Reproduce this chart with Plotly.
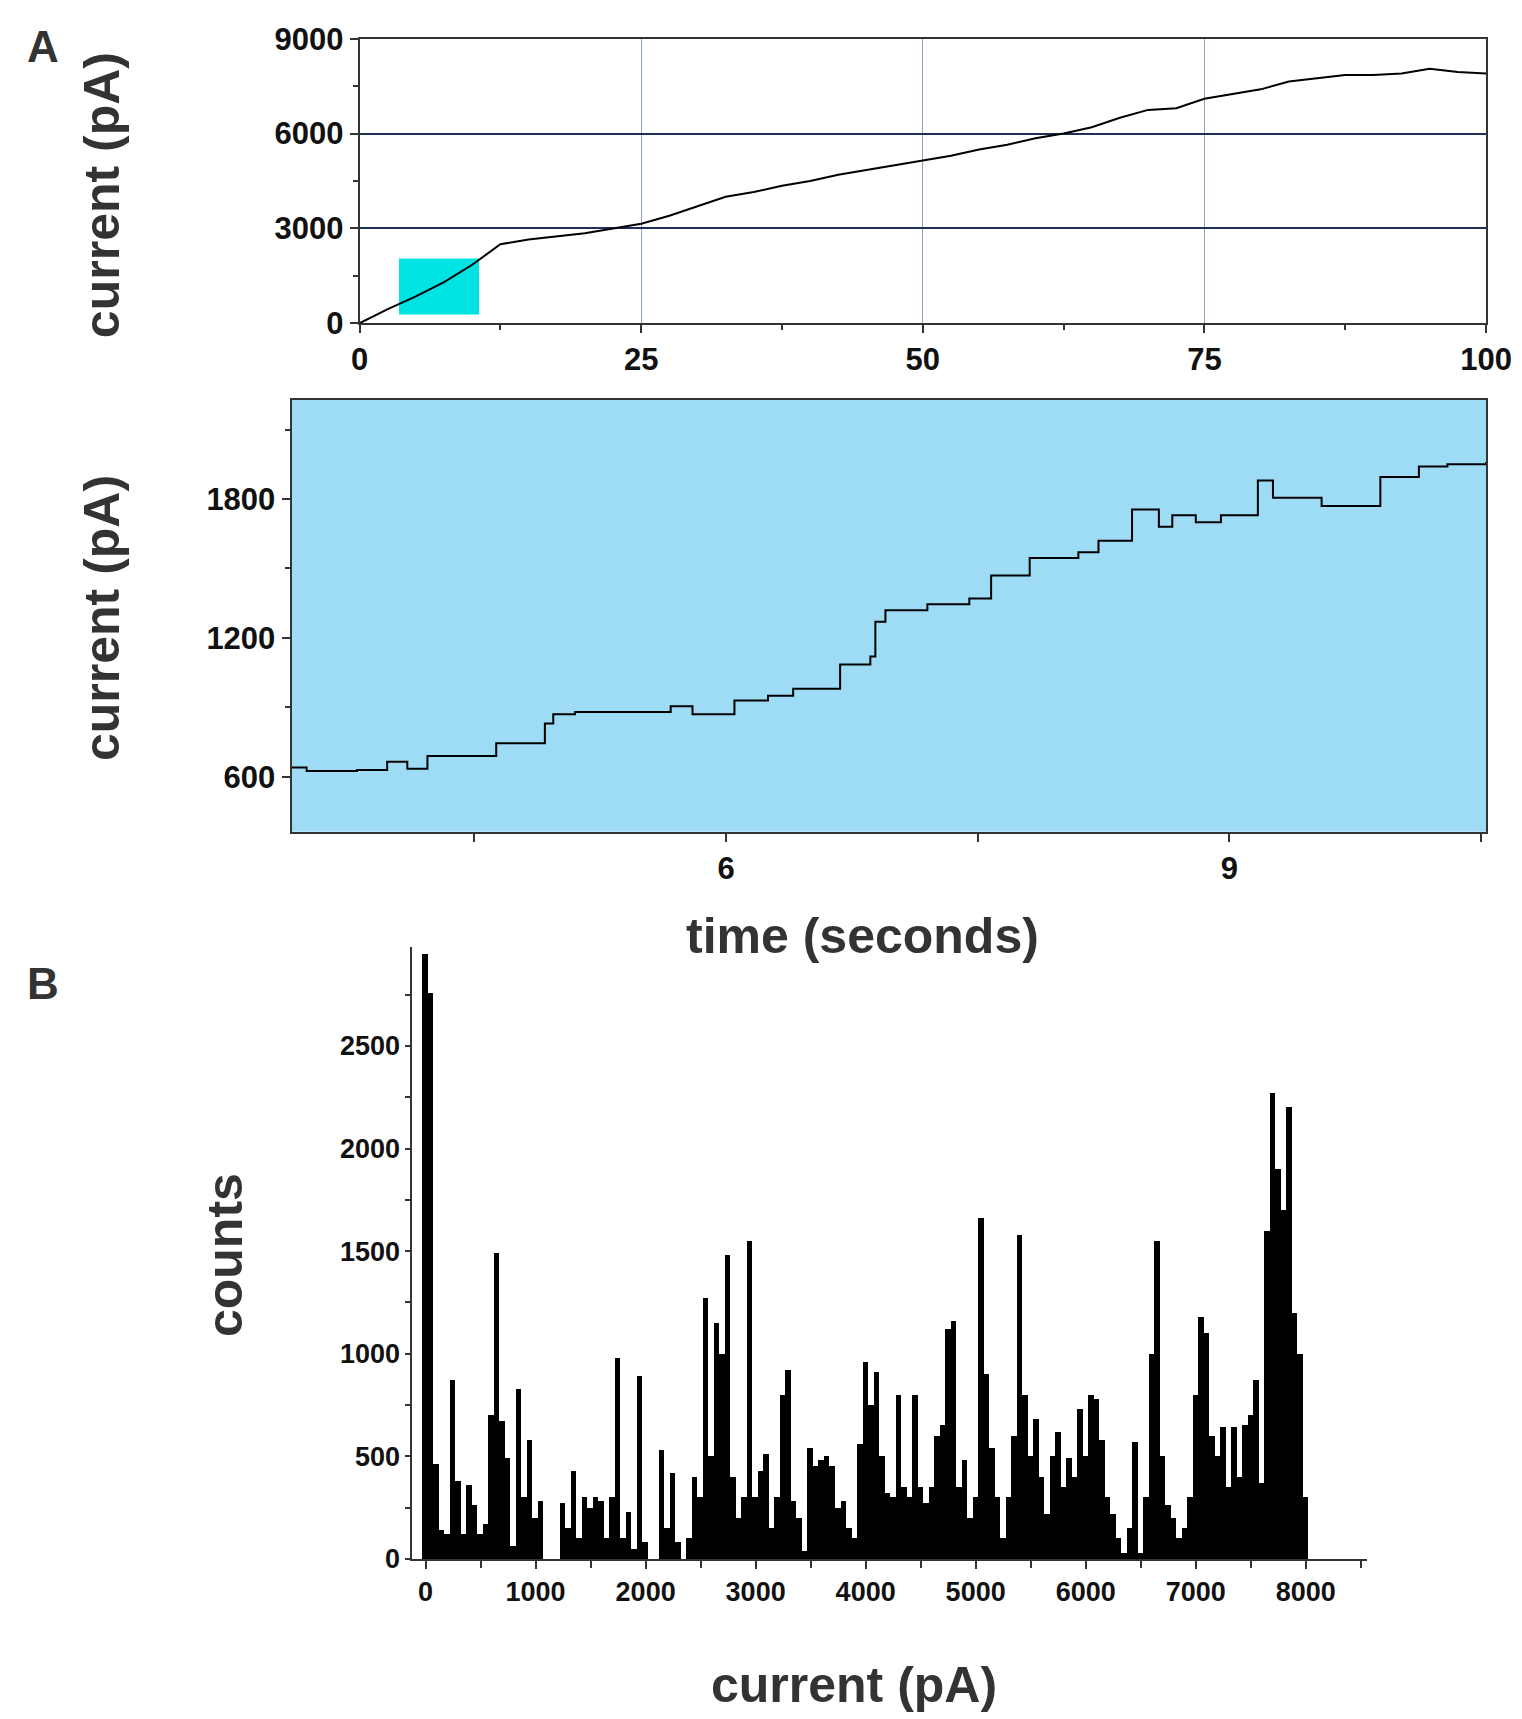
import plotly.graph_objects as go

# overview trace (panel A, top)
overview_time = [0, 2.5, 5, 7.5, 10, 12.5, 15, 17.5, 20, 22.5, 25, 27.5, 30, 32.5, 35, 37.5, 40,
                 42.5, 45, 47.5, 50, 52.5, 55, 57.5, 60, 62.5, 65, 67.5, 70, 72.5, 75, 77.5, 80,
                 82.5, 85, 87.5, 90, 92.5, 95, 97.5, 100]
overview_current = [0, 450, 850, 1300, 1850, 2500, 2650, 2750, 2850, 3000, 3150, 3400, 3700, 4000,
                    4150, 4350, 4500, 4700, 4850, 5000, 5150, 5300, 5500, 5650, 5850, 6000, 6200,
                    6500, 6750, 6800, 7100, 7250, 7400, 7650, 7750, 7850, 7850, 7900, 8050, 7950, 7900]

# zoomed trace (panel A, bottom), step levels
zoom_time = [3.41, 3.5, 3.8, 3.98, 4.1, 4.22, 4.63, 4.92, 4.97, 5.1, 5.67, 5.8, 6.05, 6.25, 6.4,
             6.68, 6.86, 6.89, 6.95, 7.2, 7.45, 7.58, 7.81, 8.1, 8.22, 8.42, 8.58, 8.66, 8.8, 8.95,
             9.17, 9.26, 9.55, 9.9, 10.13, 10.3, 10.53]
zoom_current = [640, 625, 630, 665, 635, 690, 745, 830, 870, 880, 905, 870, 930, 950, 980, 1085,
                1120, 1270, 1320, 1345, 1370, 1470, 1545, 1570, 1620, 1755, 1680, 1730, 1700, 1730,
                1880, 1805, 1770, 1895, 1940, 1950, 1960]

# histogram (panel B), 50 pA bins starting at 0
hist_counts = [
    2950, 2760, 460, 140, 120, 870, 380, 120, 360, 260,
    120, 170, 700, 1490, 670, 490, 60, 830, 300, 580,
    200, 280, 0, 0, 0, 270, 150, 430, 100, 300,
    250, 300, 280, 100, 300, 980, 100, 230, 50, 890,
    80, 0, 0, 530, 150, 420, 80, 0, 100, 400,
    300, 1270, 500, 1150, 1000, 1480, 400, 200, 300, 1550,
    300, 430, 510, 150, 300, 800, 920, 280, 200, 40,
    540, 450, 480, 500, 450, 250, 280, 150, 100, 560,
    960, 750, 910, 500, 320, 300, 800, 350, 300, 800,
    350, 270, 350, 600, 650, 1120, 1160, 350, 480, 200,
    300, 1660, 900, 540, 300, 100, 300, 600, 1580, 800,
    500, 680, 400, 220, 500, 620, 350, 490, 400, 730,
    500, 800, 780, 580, 300, 220, 100, 30, 150, 570,
    30, 300, 1000, 1550, 500, 260, 200, 100, 150, 300,
    800, 1180, 1100, 600, 500, 640, 350, 640, 400, 650,
    700, 870, 370, 1600, 2270, 1900, 1700, 2200, 1200, 1000,
    300, 0,
]
hist_current = [50 * i for i in range(len(hist_counts))]

BOLD = "Liberation Sans"
TICKFONT = dict(family=BOLD, size=31, color="#111", weight="bold")

fig = go.Figure()
fig.add_trace(go.Scatter(x=overview_time, y=overview_current, mode="lines",
                         line=dict(color="black", width=2), xaxis="x", yaxis="y"))
fig.add_trace(go.Scatter(x=zoom_time, y=zoom_current, mode="lines", line_shape="hv",
                         line=dict(color="black", width=2), xaxis="x2", yaxis="y2"))
fig.add_trace(go.Bar(x=hist_current, y=hist_counts, width=50, marker=dict(color="black", line_width=0),
                     xaxis="x3", yaxis="y3"))

axis_common = dict(showline=True, linecolor="#333", linewidth=2, ticks="outside", ticklen=8,
                   tickwidth=2, tickcolor="#333", tickfont=TICKFONT, zeroline=False, automargin=False)

fig.update_layout(
    width=1522, height=1719, margin=dict(l=0, r=0, t=0, b=0),
    paper_bgcolor="white", plot_bgcolor="white", showlegend=False, bargap=0,
    xaxis=dict(domain=[0.231, 0.9711], range=[0, 100], tickvals=[0, 25, 50, 75, 100],
               showgrid=True, gridcolor="#8fa3c8", gridwidth=1, mirror=True, anchor="y",
               minor=dict(ticks="outside", ticklen=5, tickcolor="#333", dtick=12.5), **axis_common),
    yaxis=dict(domain=[0.8166, 0.9821], range=[0, 9000], tickvals=[0, 3000, 6000, 9000],
               showgrid=True, gridcolor="#1f2f5c", gridwidth=1.5, mirror=True, anchor="x",
               minor=dict(ticks="outside", ticklen=5, tickcolor="#333", dtick=1500), **axis_common),
    xaxis2=dict(domain=[0.1863, 0.9711], range=[3.41, 10.53], tickvals=[6, 9], showgrid=False,
                mirror=True, anchor="y2",
                minor=dict(ticks="outside", ticklen=8, tickcolor="#333", tickvals=[4.5, 7.5, 10.5]),
                **axis_common),
    yaxis2=dict(domain=[0.5208, 0.7719], range=[363, 2227], tickvals=[600, 1200, 1800],
                showgrid=False, mirror=True, anchor="x2",
                minor=dict(ticks="outside", ticklen=5, tickcolor="#333", tickvals=[900, 1500, 2100]),
                **axis_common),
    xaxis3=dict(domain=[0.2657, 0.8931], range=[-120, 8560], dtick=1000, showgrid=False, anchor="y3",
                minor=dict(ticks="outside", ticklen=7, tickcolor="#333", dtick=500), **axis_common),
    yaxis3=dict(domain=[0.0978, 0.4537], range=[0, 2982], dtick=500, showgrid=False, anchor="x3",
                minor=dict(ticks="outside", ticklen=5, tickcolor="#333", dtick=250), **axis_common),
)
fig.update_layout(yaxis3=dict(tickfont=dict(size=27), ticklen=5), xaxis3=dict(tickfont=dict(size=27)))

fig.add_shape(type="rect", xref="x2 domain", yref="y2 domain", x0=0, x1=1, y0=0, y1=1,
              fillcolor="#9ddcf4", line_width=0, layer="below")
fig.add_shape(type="rect", xref="x", yref="y", x0=3.5, x1=10.6, y0=280, y1=2050,
              fillcolor="#00e3e3", line_width=0, layer="below")

title_font = dict(family=BOLD, size=50, color="#333", weight="bold")
for text, x, y, angle in [("current (pA)", 0.0614, 0.8914, -90), ("current (pA)", 0.0614, 0.6454, -90),
                          ("counts", 0.1422, 0.2748, -90)]:
    fig.add_annotation(text=text, x=x, y=y, xref="paper", yref="paper", xanchor="center",
                       yanchor="middle", showarrow=False, textangle=angle, font=title_font)
for text, x, y in [("time (seconds)", 0.5617, 0.46), ("current (pA)", 0.556, 0.0243)]:
    fig.add_annotation(text=text, x=x, y=y, xref="paper", yref="paper", xanchor="center",
                       yanchor="middle", showarrow=False, font=title_font)
for text, x, y in [("A", 0.023, 0.9776), ("B", 0.023, 0.4326)]:
    fig.add_annotation(text=text, x=x, y=y, xref="paper", yref="paper", xanchor="center",
                       yanchor="middle", showarrow=False,
                       font=dict(family=BOLD, size=44, color="#333", weight="bold"))

fig.write_html("out.html")
